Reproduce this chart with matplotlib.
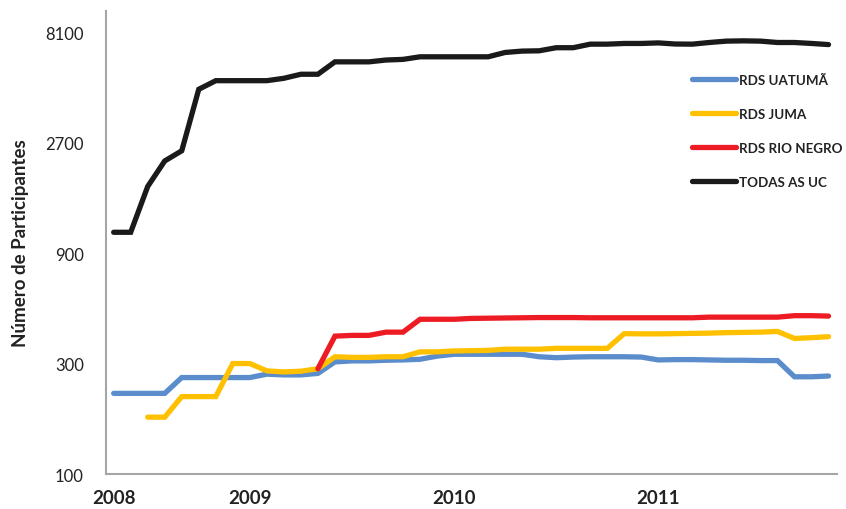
import numpy as np
import matplotlib
matplotlib.use("Agg")
import matplotlib.pyplot as plt
from matplotlib.ticker import FixedLocator, NullLocator

plt.rcParams['font.family'] = ['Lato', 'DejaVu Sans']

nan = np.nan

# monthly points, 43 in all; year labels sit on points 0, 8, 20, 32
year_pos = [0, 8, 20, 32]
year_labels = ["2008", "2009", "2010", "2011"]

uatuma = [223, 223, 223, 223, 261, 261, 261, 261, 261, 270,
          268, 268, 272, 305, 308, 308, 310, 311, 313, 323,
          329, 329, 329, 329, 329, 321, 318, 320, 321, 321,
          321, 320, 311, 312, 312, 311, 310, 310, 309, 309,
          263, 263, 265]
juma = [nan, nan, 176, 176, 216, 216, 216, 300, 300, 279,
        276, 278, 285, 321, 319, 319, 321, 321, 337, 337,
        340, 341, 342, 346, 346, 346, 349, 349, 349, 349,
        404, 403, 403, 404, 405, 406, 408, 409, 410, 413,
        385, 388, 392]
rio_negro = [nan, nan, nan, nan, nan, nan, nan, nan, nan, nan,
             nan, nan, 285, 394, 397, 397, 410, 410, 466, 466,
             466, 470, 471, 472, 473, 474, 474, 474, 473, 473,
             473, 473, 473, 473, 473, 476, 476, 476, 476, 476,
             483, 483, 481]
todas = [1107, 1107, 1746, 2250, 2490, 4590, 5000, 5000, 5000, 5000,
         5120, 5330, 5330, 6030, 6030, 6030, 6140, 6180, 6340, 6340,
         6340, 6340, 6340, 6620, 6710, 6730, 6940, 6940, 7190, 7190,
         7240, 7240, 7280, 7200, 7190, 7310, 7410, 7430, 7410, 7310,
         7310, 7240, 7160]

series = [
    ("RDS UATUMÃ", uatuma, "#5b8dcc"),
    ("RDS JUMA", juma, "#ffc000"),
    ("RDS RIO NEGRO", rio_negro, "#ed1c24"),
    ("TODAS AS UC", todas, "#1a1a1a"),
]

fig = plt.figure(figsize=(8.46, 5.10), dpi=100)
ax = fig.add_axes([0.1253, 0.0686, 0.8641, 0.9079])

x = np.arange(len(todas))
for name, vals, col in series:
    ax.plot(x, vals, color=col, lw=3.8, label=name, solid_capstyle='round',
            solid_joinstyle='miter')

ax.set_yscale('log', base=3)
ax.set_ylim(100, 10000)
ax.set_xlim(-0.45, 42.5)

yt = [100, 300, 900, 2700, 8100]
ax.yaxis.set_major_locator(FixedLocator(yt))
ax.yaxis.set_minor_locator(NullLocator())
ax.set_yticklabels([str(v) for v in yt], fontsize=12, color="#222222")
ax.set_xticks(year_pos)
ax.set_xticklabels(year_labels, fontsize=13.5, fontweight='bold', color="#222222")
ax.tick_params(axis='y', length=0, pad=16)
ax.tick_params(axis='x', length=0, pad=11)

for s in ['top', 'right']:
    ax.spines[s].set_visible(False)
for s in ['left', 'bottom']:
    ax.spines[s].set_color("#a6a6a6")
    ax.spines[s].set_linewidth(1.5)

ax.set_ylabel("Número de Participantes", fontsize=13.5, fontweight='bold',
              color="#222222", labelpad=12)

leg = ax.legend(loc='upper left', bbox_to_anchor=(692 / 846, 1 - 75 / 510),
                bbox_transform=fig.transFigure, frameon=False, borderpad=0,
                borderaxespad=0, handlelength=3.3, handletextpad=0.25,
                labelspacing=1.65, prop={'size': 9.6, 'weight': 'bold'})
for t in leg.get_texts():
    t.set_color("#222222")

fig.savefig("out.png", dpi=100)
